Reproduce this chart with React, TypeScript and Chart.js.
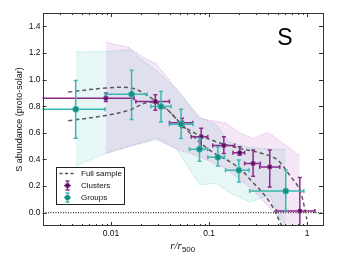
import React, { useEffect, useRef } from "react";
import { Chart, registerables } from "chart.js";
Chart.register(...registerables);

// ---- axis ticks ----
const xMajorTicks = [0.01, 0.1, 1];
const xTickLabels = ["0.01", "0.1", "1"];
const yTicks = [0, 0.2, 0.4, 0.6, 0.8, 1.0, 1.2, 1.4];
const yTickLabels = ["0.0", "0.2", "0.4", "0.6", "0.8", "1.0", "1.2", "1.4"];

// ---- Clusters ----
const clX = [0.00885, 0.0283, 0.053, 0.083, 0.1413, 0.205, 0.281, 0.415, 0.842];
const clY = [0.86, 0.835, 0.675, 0.571, 0.505, 0.45, 0.37, 0.344, 0.012];
const clXlo = [0.0015, 0.0179, 0.0394, 0.0656, 0.109, 0.175, 0.23, 0.328, 0.486];
const clXhi = [0.0172, 0.0394, 0.0681, 0.097, 0.182, 0.23, 0.333, 0.526, 1.2];
const clYlo = [0.835, 0.77, 0.64, 0.483, 0.445, 0.432, 0.274, 0.193, -0.3];
const clYhi = [0.9, 0.885, 0.71, 0.634, 0.57, 0.495, 0.47, 0.47, 0.264];

// ---- Groups ----
const grX = [0.00436, 0.0162, 0.0323, 0.0518, 0.0798, 0.1228, 0.201, 0.605];
const grY = [0.777, 0.89, 0.797, 0.665, 0.477, 0.416, 0.319, 0.162];
const grXlo = [0.0015, 0.0087, 0.0255, 0.0394, 0.063, 0.097, 0.147, 0.259];
const grXhi = [0.0087, 0.0234, 0.041, 0.0681, 0.0964, 0.1438, 0.255, 0.925];
const grYlo = [0.56, 0.7, 0.684, 0.558, 0.387, 0.35, 0.231, 0.017];
const grYhi = [0.993, 1.07, 0.91, 0.777, 0.56, 0.495, 0.395, 0.32];

// ---- Full sample (dashed envelope) ----
const fullUpX = [0.00366, 0.00885, 0.01644, 0.0245, 0.0367, 0.0601, 0.118, 0.2046, 0.328, 0.49, 0.665, 0.842, 0.993];
const fullUpY = [0.906, 0.936, 0.935, 0.87, 0.78, 0.63, 0.533, 0.483, 0.45, 0.4, 0.28, 0.17, -0.05];
const fullLoX = [0.00366, 0.00885, 0.0153, 0.0245, 0.0349, 0.0498, 0.0676, 0.101, 0.1907, 0.278, 0.415, 0.551];
const fullLoY = [0.69, 0.73, 0.77, 0.83, 0.79, 0.68, 0.58, 0.47, 0.35, 0.23, 0.08, -0.1];

// ---- Cluster band ----
const clBandX = [0.00885, 0.0153, 0.022, 0.0288, 0.0461, 0.0798, 0.1496, 0.2046, 0.28, 0.399, 0.842];
const clBandUp = [1.28, 1.24, 1.16, 1.12, 0.93, 0.71, 0.672, 0.6, 0.558, 0.604, 0.43];
const clBandLo = [0.445, 0.5, 0.53, 0.56, 0.48, 0.42, 0.33, 0.25, 0.17, 0.05, -0.2];

// ---- Group band ----
const grBandX = [0.00436, 0.00885, 0.01595, 0.0202, 0.0288, 0.0461, 0.0798, 0.118, 0.162, 0.259, 0.415, 0.605];
const grBandUp = [1.207, 1.21, 1.225, 1.15, 1.07, 0.935, 0.72, 0.66, 0.53, 0.49, 0.48, 0.475];
const grBandLo = [0.35, 0.445, 0.5, 0.52, 0.55, 0.483, 0.21, 0.22, 0.15, 0.08, 0.13, -0.15];

const PURPLE = "#8a2a8a";
const PURPLE_DARK = "#4e0f55";
const TEAL = "#38b9af";
const TEAL_DARK = "#1b8a82";
const FONT = "'Liberation Sans', Arial, sans-serif";

const pts = (xs: number[], ys: number[]) => xs.map((x, i) => ({ x, y: ys[i] }));

const errPlugin = {
  id: "errbars",
  beforeDatasetDraw(chart: any, args: any) {
    const ds = chart.data.datasets[args.index];
    const e = ds.err;
    if (!e) return;
    const { ctx, chartArea: a } = chart;
    const xs = chart.scales.x, ys = chart.scales.y;
    ctx.save();
    ctx.beginPath();
    ctx.rect(a.left, a.top, a.right - a.left, a.bottom - a.top);
    ctx.clip();
    ctx.strokeStyle = e.color;
    ctx.lineWidth = 1.5;
    const c = 2;
    for (let i = 0; i < e.x.length; i++) {
      const px = xs.getPixelForValue(e.x[i]);
      const py = ys.getPixelForValue(e.y[i]);
      const x0 = xs.getPixelForValue(e.xlo[i]);
      const x1 = xs.getPixelForValue(e.xhi[i]);
      const y0 = ys.getPixelForValue(e.ylo[i]);
      const y1 = ys.getPixelForValue(e.yhi[i]);
      ctx.beginPath();
      ctx.moveTo(x0, py); ctx.lineTo(x1, py);
      ctx.moveTo(px, y0); ctx.lineTo(px, y1);
      ctx.moveTo(x0, py - c); ctx.lineTo(x0, py + c);
      ctx.moveTo(x1, py - c); ctx.lineTo(x1, py + c);
      ctx.moveTo(px - c, y0); ctx.lineTo(px + c, y0);
      ctx.moveTo(px - c, y1); ctx.lineTo(px + c, y1);
      ctx.stroke();
    }
    ctx.restore();
  },
};

const decorPlugin = {
  id: "decor",
  afterDraw(chart: any) {
    const { ctx, chartArea: a } = chart;
    const xs = chart.scales.x, ys = chart.scales.y;
    ctx.save();
    // frame
    ctx.strokeStyle = "#333";
    ctx.lineWidth = 1;
    ctx.strokeRect(Math.round(a.left) + 0.5, Math.round(a.top) + 0.5, Math.round(a.right - a.left) - 1, Math.round(a.bottom - a.top) - 1);
    // y ticks (inward, left & right)
    ctx.beginPath();
    for (const v of yTicks) {
      const py = Math.round(ys.getPixelForValue(v)) + 0.5;
      ctx.moveTo(a.left, py); ctx.lineTo(a.left + 4, py);
      ctx.moveTo(a.right, py); ctx.lineTo(a.right - 4, py);
    }
    // x ticks major/minor (inward, bottom & top)
    for (let d = -3; d <= 0; d++) {
      for (let m = 1; m <= 9; m++) {
        const v = m * Math.pow(10, d);
        if (v < xs.min || v > xs.max) continue;
        const px = Math.round(xs.getPixelForValue(v)) + 0.5;
        const L = m === 1 ? 4 : 2;
        ctx.moveTo(px, a.bottom); ctx.lineTo(px, a.bottom - L);
        ctx.moveTo(px, a.top); ctx.lineTo(px, a.top + L);
      }
    }
    ctx.stroke();

    // y title
    ctx.fillStyle = "#111";
    ctx.font = `9px ${FONT}`;
    ctx.save();
    ctx.translate(20, (a.top + a.bottom) / 2);
    ctx.rotate(-Math.PI / 2);
    ctx.textAlign = "center";
    ctx.textBaseline = "middle";
    ctx.fillText("S abundance (proto-solar)", 0, 0);
    ctx.restore();

    // x title r/r_500
    ctx.font = `italic 11px 'Liberation Serif', 'DejaVu Serif', serif`;
    const t1 = "r/r";
    const w1 = ctx.measureText(t1).width;
    ctx.font = `8px ${FONT}`;
    const w2 = ctx.measureText("500").width;
    const cx = (a.left + a.right) / 2;
    const sx = cx - (w1 + w2) / 2;
    ctx.textAlign = "left";
    ctx.textBaseline = "alphabetic";
    ctx.font = `italic 11px 'Liberation Serif', 'DejaVu Serif', serif`;
    ctx.fillText(t1, sx, 249);
    ctx.font = `8px ${FONT}`;
    ctx.fillText("500", sx + w1, 252);

    // big S label
    ctx.font = `23px ${FONT}`;
    ctx.textAlign = "center";
    ctx.textBaseline = "middle";
    ctx.fillStyle = "#000";
    ctx.fillText("S", 285, 38.5);

    // legend
    ctx.font = `8px ${FONT}`;
    const tw = ctx.measureText("Full sample").width;
    const tx = 81;
    const bx = 56.5, by = 167.5, bw = Math.round(tx + tw + 3 - bx), bh = 37;
    ctx.fillStyle = "#fff";
    ctx.fillRect(bx, by, bw, bh);
    ctx.strokeStyle = "#222";
    ctx.lineWidth = 1;
    ctx.strokeRect(bx, by, bw, bh);
    // row 1 dashed
    ctx.strokeStyle = "#555";
    ctx.lineWidth = 1.5;
    ctx.setLineDash([3, 2.5]);
    ctx.beginPath();
    ctx.moveTo(59.5, 173.5); ctx.lineTo(76, 173.5);
    ctx.stroke();
    ctx.setLineDash([]);
    // row 2/3 errorbar icons
    const icon = (y: number, col: string, fill: string, circ: boolean) => {
      ctx.strokeStyle = col;
      ctx.lineWidth = 1.5;
      ctx.beginPath();
      ctx.moveTo(64, y); ctx.lineTo(71, y);
      ctx.moveTo(67.5, y - 4.5); ctx.lineTo(67.5, y + 4.5);
      ctx.moveTo(65.5, y - 4.5); ctx.lineTo(69.5, y - 4.5);
      ctx.moveTo(65.5, y + 4.5); ctx.lineTo(69.5, y + 4.5);
      ctx.stroke();
      ctx.fillStyle = fill;
      ctx.beginPath();
      if (circ) ctx.arc(67.5, y, 2.6, 0, Math.PI * 2);
      else ctx.rect(65.5, y - 2, 4, 4);
      ctx.fill();
    };
    icon(185.5, PURPLE, PURPLE_DARK, false);
    icon(197.5, TEAL, TEAL_DARK, true);
    ctx.fillStyle = "#111";
    ctx.textAlign = "left";
    ctx.textBaseline = "middle";
    ctx.fillText("Full sample", tx, 174);
    ctx.fillText("Clusters", tx, 186);
    ctx.fillText("Groups", tx, 198);
    ctx.restore();
  },
};

export default function App() {
  const ref = useRef<HTMLCanvasElement | null>(null);
  useEffect(() => {
    if (!ref.current) return;
    const tickFont = { family: FONT, size: 8.5 };
    const chart = new Chart(ref.current, {
      type: "scatter",
      data: {
        datasets: [
          {
            data: pts(grX, grY),
            pointStyle: "circle",
            pointRadius: 3,
            backgroundColor: TEAL_DARK,
            borderColor: TEAL,
            borderWidth: 1,
            order: 1,
            err: { color: TEAL, x: grX, y: grY, xlo: grXlo, xhi: grXhi, ylo: grYlo, yhi: grYhi },
          } as any,
          {
            data: pts(clX, clY),
            pointStyle: "rect",
            pointRadius: 2.5,
            backgroundColor: PURPLE_DARK,
            borderColor: PURPLE,
            borderWidth: 1,
            order: 2,
            err: { color: PURPLE, x: clX, y: clY, xlo: clXlo, xhi: clXhi, ylo: clYlo, yhi: clYhi },
          } as any,
          {
            data: pts(fullUpX, fullUpY),
            showLine: true,
            pointRadius: 0,
            borderColor: "#5a5a5a",
            borderWidth: 1.5,
            borderDash: [4, 3],
            tension: 0.35,
            fill: false,
            order: 3,
          },
          {
            data: pts(fullLoX, fullLoY),
            showLine: true,
            pointRadius: 0,
            borderColor: "#5a5a5a",
            borderWidth: 1.5,
            borderDash: [4, 3],
            tension: 0.35,
            fill: false,
            order: 3,
          },
          {
            data: [{ x: 0.001, y: 0 }, { x: 2, y: 0 }],
            showLine: true,
            pointRadius: 0,
            borderColor: "#000",
            borderWidth: 1,
            borderDash: [1, 1.5],
            fill: false,
            order: 4,
          },
          {
            data: pts(clBandX, clBandUp),
            showLine: true,
            pointRadius: 0,
            borderColor: "rgba(205,120,205,0.8)",
            borderWidth: 0.8,
            borderDash: [1, 1.5],
            fill: false,
            order: 5,
          },
          {
            data: pts(clBandX, clBandLo),
            showLine: true,
            pointRadius: 0,
            borderColor: "rgba(205,120,205,0.8)",
            borderWidth: 0.8,
            borderDash: [1, 1.5],
            backgroundColor: "rgba(175,60,175,0.12)",
            fill: "-1",
            order: 5,
          },
          {
            data: pts(grBandX, grBandUp),
            showLine: true,
            pointRadius: 0,
            borderColor: "rgba(110,210,200,0.9)",
            borderWidth: 0.8,
            borderDash: [1, 1.5],
            fill: false,
            order: 6,
          },
          {
            data: pts(grBandX, grBandLo),
            showLine: true,
            pointRadius: 0,
            borderColor: "rgba(110,210,200,0.9)",
            borderWidth: 0.8,
            borderDash: [1, 1.5],
            backgroundColor: "rgba(70,195,185,0.13)",
            fill: "-1",
            order: 6,
          },
        ],
      },
      options: {
        animation: false,
        responsive: false,
        events: [],
        layout: { padding: { top: 13, right: 18, left: 0, bottom: 0 } },
        plugins: { legend: { display: false }, tooltip: { enabled: false } },
        scales: {
          x: {
            type: "logarithmic",
            min: 0.002,
            max: 1.45,
            afterBuildTicks: (s: any) => {
              s.ticks = xMajorTicks.map((v) => ({ value: v }));
            },
            afterFit: (s: any) => {
              s.height = 31;
            },
            grid: { display: false, drawTicks: false },
            border: { display: false },
            ticks: {
              autoSkip: false,
              maxRotation: 0,
              padding: 3,
              color: "#111",
              font: tickFont,
              callback: (_v: any, i: number) => xTickLabels[i],
            },
          },
          y: {
            type: "linear",
            min: -0.1,
            max: 1.5,
            afterBuildTicks: (s: any) => {
              s.ticks = yTicks.map((v) => ({ value: v }));
            },
            afterFit: (s: any) => {
              s.width = 42.5;
            },
            grid: { display: false, drawTicks: false },
            border: { display: false },
            ticks: {
              autoSkip: false,
              padding: 2,
              color: "#111",
              font: tickFont,
              callback: (_v: any, i: number) => yTickLabels[i],
            },
          },
        },
      } as any,
      plugins: [errPlugin, decorPlugin],
    });
    return () => chart.destroy();
  }, []);
  return (
    <div style={{ position: "fixed", left: 0, top: 0, width: 341, height: 257, background: "#fff" }}>
      <canvas ref={ref} width={341} height={257} style={{ display: "block", width: 341, height: 257 }} />
    </div>
  );
}
